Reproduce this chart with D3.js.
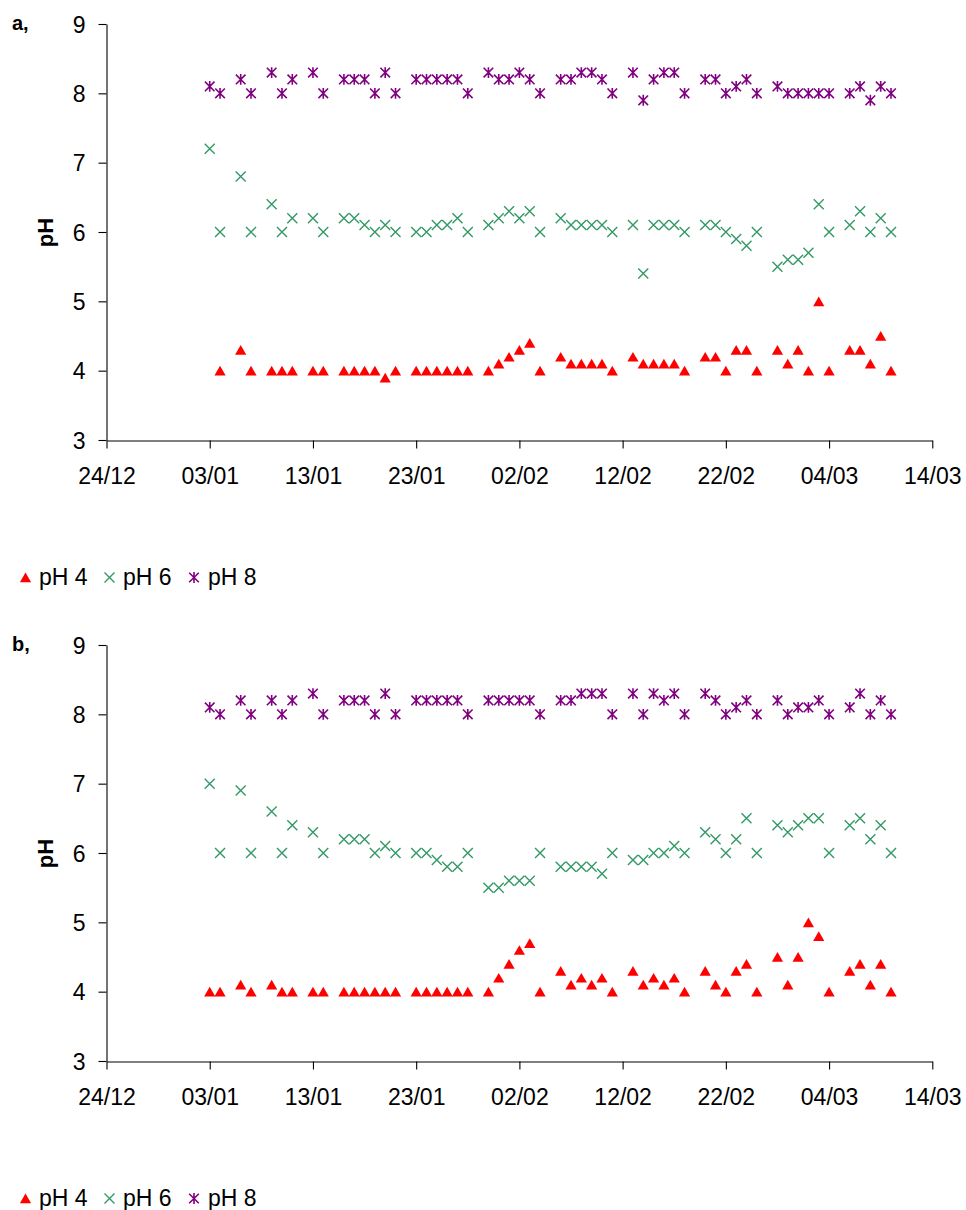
<!DOCTYPE html>
<html>
<head>
<meta charset="utf-8">
<script src="https://cdn.jsdelivr.net/npm/d3@7/dist/d3.min.js"></script>
<style>
  html, body { margin: 0; padding: 0; background: #ffffff; }
  svg { display: block; font-family: Arial, "Liberation Sans", sans-serif; }
</style>
</head>
<body>
<script>
// Sampling dates (dd/mm, winter 2006/07)
const sampleDates = [
  "03/01","04/01","06/01","07/01","09/01","10/01","11/01","13/01","14/01",
  "16/01","17/01","18/01","19/01","20/01","21/01",
  "23/01","24/01","25/01","26/01","27/01","28/01",
  "30/01","31/01","01/02","02/02","03/02","04/02",
  "06/02","07/02","08/02","09/02","10/02","11/02",
  "13/02","14/02","15/02","16/02","17/02","18/02",
  "20/02","21/02","22/02","23/02","24/02","25/02",
  "27/02","28/02","01/03","02/03","03/03","04/03",
  "06/03","07/03","08/03","09/03","10/03"
];

// Panel a
const aPH4 = [
  null,4.0,4.3,4.0,4.0,4.0,4.0,4.0,4.0,
  4.0,4.0,4.0,4.0,3.9,4.0,
  4.0,4.0,4.0,4.0,4.0,4.0,
  4.0,4.1,4.2,4.3,4.4,4.0,
  4.2,4.1,4.1,4.1,4.1,4.0,
  4.2,4.1,4.1,4.1,4.1,4.0,
  4.2,4.2,4.0,4.3,4.3,4.0,
  4.3,4.1,4.3,4.0,5.0,4.0,
  4.3,4.3,4.1,4.5,4.0
];
const aPH6 = [
  7.2,6.0,6.8,6.0,6.4,6.0,6.2,6.2,6.0,
  6.2,6.2,6.1,6.0,6.1,6.0,
  6.0,6.0,6.1,6.1,6.2,6.0,
  6.1,6.2,6.3,6.2,6.3,6.0,
  6.2,6.1,6.1,6.1,6.1,6.0,
  6.1,5.4,6.1,6.1,6.1,6.0,
  6.1,6.1,6.0,5.9,5.8,6.0,
  5.5,5.6,5.6,5.7,6.4,6.0,
  6.1,6.3,6.0,6.2,6.0
];
const aPH8 = [
  8.1,8.0,8.2,8.0,8.3,8.0,8.2,8.3,8.0,
  8.2,8.2,8.2,8.0,8.3,8.0,
  8.2,8.2,8.2,8.2,8.2,8.0,
  8.3,8.2,8.2,8.3,8.2,8.0,
  8.2,8.2,8.3,8.3,8.2,8.0,
  8.3,7.9,8.2,8.3,8.3,8.0,
  8.2,8.2,8.0,8.1,8.2,8.0,
  8.1,8.0,8.0,8.0,8.0,8.0,
  8.0,8.1,7.9,8.1,8.0
];

// Panel b
const bPH4 = [
  4.0,4.0,4.1,4.0,4.1,4.0,4.0,4.0,4.0,
  4.0,4.0,4.0,4.0,4.0,4.0,
  4.0,4.0,4.0,4.0,4.0,4.0,
  4.0,4.2,4.4,4.6,4.7,4.0,
  4.3,4.1,4.2,4.1,4.2,4.0,
  4.3,4.1,4.2,4.1,4.2,4.0,
  4.3,4.1,4.0,4.3,4.4,4.0,
  4.5,4.1,4.5,5.0,4.8,4.0,
  4.3,4.4,4.1,4.4,4.0
];
const bPH6 = [
  7.0,6.0,6.9,6.0,6.6,6.0,6.4,6.3,6.0,
  6.2,6.2,6.2,6.0,6.1,6.0,
  6.0,6.0,5.9,5.8,5.8,6.0,
  5.5,5.5,5.6,5.6,5.6,6.0,
  5.8,5.8,5.8,5.8,5.7,6.0,
  5.9,5.9,6.0,6.0,6.1,6.0,
  6.3,6.2,6.0,6.2,6.5,6.0,
  6.4,6.3,6.4,6.5,6.5,6.0,
  6.4,6.5,6.2,6.4,6.0
];
const bPH8 = [
  8.1,8.0,8.2,8.0,8.2,8.0,8.2,8.3,8.0,
  8.2,8.2,8.2,8.0,8.3,8.0,
  8.2,8.2,8.2,8.2,8.2,8.0,
  8.2,8.2,8.2,8.2,8.2,8.0,
  8.2,8.2,8.3,8.3,8.3,8.0,
  8.3,8.0,8.3,8.2,8.3,8.0,
  8.3,8.2,8.0,8.1,8.2,8.0,
  8.2,8.0,8.1,8.1,8.2,8.0,
  8.1,8.3,8.0,8.2,8.0
];

const xTickLabels = ["24/12","03/01","13/01","23/01","02/02","12/02","22/02","04/03","14/03"];
const yTicks = [3,4,5,6,7,8,9];
const seriesNames = ["pH 4","pH 6","pH 8"];

// dd/mm -> Date (December belongs to 2006, the rest to 2007)
const parseDay = s => {
  const [d, m] = s.split("/").map(Number);
  return new Date(m === 12 ? 2006 : 2007, m - 1, d);
};

const W = 966, H = 1210;
const FONT = "Arial, 'Liberation Sans', sans-serif";
const svg = d3.select("body").append("svg").attr("width", W).attr("height", H);

const x = d3.scaleTime()
  .domain([parseDay(xTickLabels[0]), parseDay(xTickLabels[xTickLabels.length - 1])])
  .range([106.5, 932.3]);

const colors = { "pH 4": "#ff0000", "pH 6": "#339966", "pH 8": "#800080" };

// marker drawers, centred on (0,0)
function drawMarker(g, name) {
  if (name === "pH 4") {
    g.append("path").attr("d", "M0,-4.9L5.6,4.8L-5.6,4.8Z").attr("fill", colors[name]);
  } else if (name === "pH 6") {
    g.append("path").attr("d", "M-5,-5L5,5M-5,5L5,-5")
      .attr("stroke", colors[name]).attr("stroke-width", 1.4).attr("fill", "none");
  } else {
    g.append("path").attr("d", "M-4.8,-4.8L4.8,4.8M-4.8,4.8L4.8,-4.8M0,-5.4L0,5.4")
      .attr("stroke", colors[name]).attr("stroke-width", 1.6).attr("fill", "none");
  }
}

function drawPanel(oy, letter, values) {
  const y = d3.scaleLinear().domain([3, 9]).range([440 + oy, 24 + oy]);
  const g = svg.append("g");

  g.append("text").attr("x", 12).attr("y", 30 + oy)
    .attr("font-size", 20).attr("font-weight", "bold").text(letter);

  // y axis
  const yAxis = d3.axisLeft(y).tickValues(yTicks).tickSize(8).tickSizeOuter(0).tickPadding(13)
    .tickFormat(d3.format("d"));
  const ya = g.append("g").attr("transform", "translate(106.5,0)").call(yAxis);
  ya.selectAll("text").attr("font-size", 23).attr("fill", "#000").attr("dy", "0.36em")
    .attr("font-family", FONT);
  ya.selectAll("line, path").attr("stroke", "#000").attr("stroke-width", 1.1);

  // x axis
  const xAxis = d3.axisBottom(x).tickValues(xTickLabels.map(parseDay)).tickSize(8).tickSizeOuter(0)
    .tickFormat(d3.timeFormat("%d/%m"));
  const xa = g.append("g").attr("transform", `translate(0,${440.5 + oy})`).call(xAxis);
  xa.selectAll("text").attr("font-size", 23).attr("fill", "#000").attr("y", 43.5).attr("dy", "0")
    .attr("font-family", FONT);
  xa.selectAll("line, path").attr("stroke", "#000").attr("stroke-width", 1.1);

  // y title
  g.append("text")
    .attr("transform", `translate(53,${232.5 + oy}) rotate(-90)`)
    .attr("text-anchor", "middle").attr("font-size", 22).attr("font-weight", "bold").text("pH");

  // points
  seriesNames.forEach((name, si) => {
    const vals = values[si];
    sampleDates.forEach((ds, i) => {
      const v = vals[i];
      if (v === null || v === undefined) return;
      const mg = g.append("g").attr("transform", `translate(${x(parseDay(ds))},${y(v)})`);
      drawMarker(mg, name);
    });
  });

  // legend
  const legendX = [25.5, 109.5, 194];
  const textX = [39, 123, 208];
  seriesNames.forEach((name, i) => {
    const mg = g.append("g").attr("transform", `translate(${legendX[i]},${577.5 + oy})`);
    drawMarker(mg, name);
    g.append("text").attr("x", textX[i]).attr("y", 585 + oy).attr("font-size", 23).text(name);
  });
}

drawPanel(0, "a,", [aPH4, aPH6, aPH8]);
drawPanel(621, "b,", [bPH4, bPH6, bPH8]);
</script>
</body>
</html>
